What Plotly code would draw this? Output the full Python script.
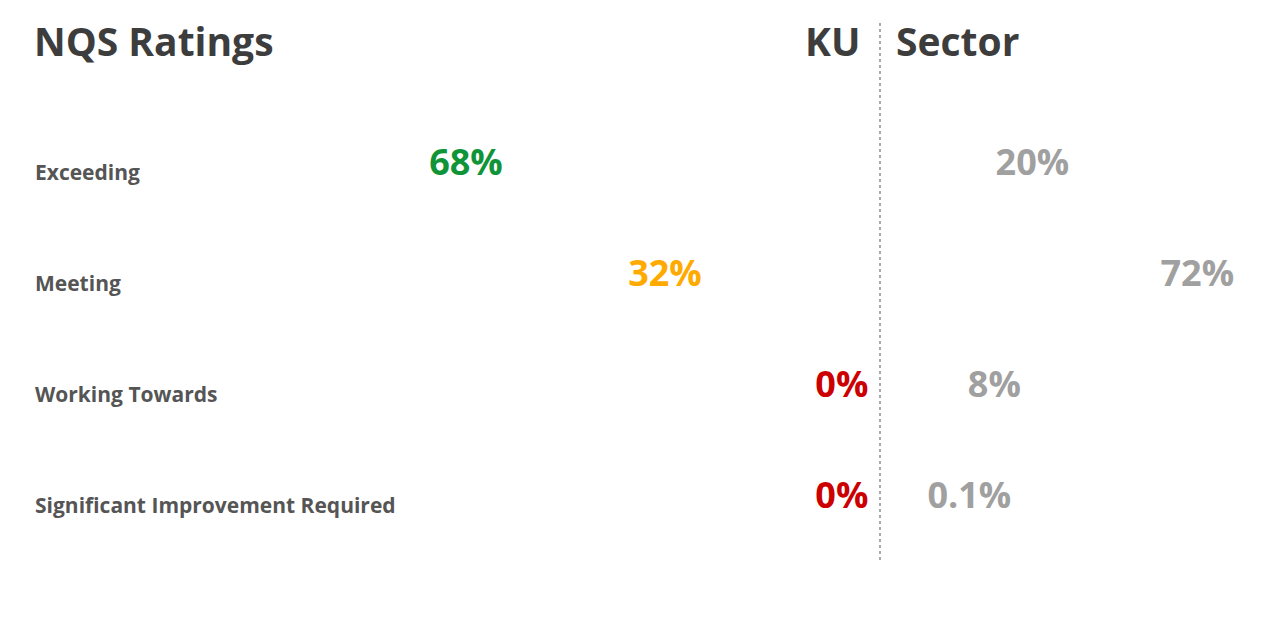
import plotly.graph_objects as go

categories = ["Exceeding", "Meeting", "Working Towards", "Significant Improvement Required"]
ku_values = [68, 32, 0, 0]
ku_labels = ["68%", "32%", "0%", "0%"]
ku_colors = ["#0f9438", "#ffaa00", "#cc0000", "#cc0000"]
sector_values = [20, 72, 8, 0.1]
sector_labels = ["20%", "72%", "8%", "0.1%"]

rows = list(range(len(categories)))
font = "Open Sans"
W, H = 1280, 640
dx, dy = 8, 7  # page body offset

fig = go.Figure()
fig.add_trace(go.Scatter(
    x=ku_values, y=rows, mode="text", text=ku_labels,
    textfont=dict(family=font, size=36, color=ku_colors, weight="bold"),
    xaxis="x", yaxis="y", hoverinfo="skip"))
fig.add_trace(go.Scatter(
    x=sector_values, y=rows, mode="text", text=sector_labels,
    textfont=dict(family=font, size=36, color="#a0a0a0", weight="bold"),
    xaxis="x2", yaxis="y", hoverinfo="skip"))

for i, c in enumerate(categories):
    fig.add_annotation(x=(33 - dx) / W, y=i, xref="paper", yref="y", text=c, showarrow=False,
                       xanchor="left", yshift=-6,
                       font=dict(family=font, size=21, color="#555555", weight="bold"))

for txt, x, anchor in [("NQS Ratings", 32, "left"), ("KU", 862, "right"), ("Sector", 894, "left")]:
    fig.add_annotation(x=(x - dx) / W, y=1 - (40 - dy) / H, xref="paper", yref="paper",
                       yanchor="middle", text=txt, showarrow=False, xanchor=anchor,
                       font=dict(family=font, size=39, color="#3d3d3d", weight="bold"))

fig.add_shape(type="line", xref="paper", yref="paper", x0=(880 - dx) / W, x1=(880 - dx) / W,
              y0=1 - (22 - dy) / H, y1=1 - (562 - dy) / H,
              line=dict(color="#aaaaaa", width=2, dash="dot"))

hidden = dict(showgrid=False, zeroline=False, showticklabels=False, showline=False)
fig.update_layout(
    width=W, height=H, margin=dict(l=0, r=0, t=0, b=0),
    plot_bgcolor="white", paper_bgcolor="white", showlegend=False,
    xaxis=dict(domain=[0, 0.7], range=[150.85, -11.25], **hidden),
    xaxis2=dict(domain=[0.7, 1], range=[-20.5, 100.6], anchor="y", **hidden),
    yaxis=dict(range=[4.35, -1.43], **hidden),
)

fig.write_html("out.html")
